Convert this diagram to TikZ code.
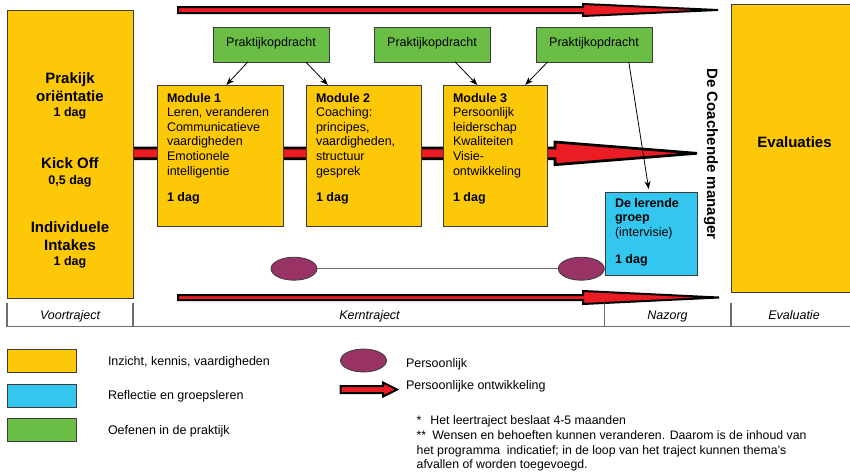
\documentclass[tikz,border=0pt]{standalone}
\usepackage{fontspec}
\setmainfont{Liberation Sans}
\usetikzlibrary{calc,arrows.meta,shapes.geometric}
\definecolor{cyel}{RGB}{252,200,8}
\definecolor{cblu}{RGB}{51,199,240}
\definecolor{cgrn}{RGB}{106,189,69}
\definecolor{cpur}{RGB}{153,51,102}
\definecolor{cred}{RGB}{236,28,36}
\definecolor{cbrd}{RGB}{60,60,60}
\definecolor{cgry}{RGB}{110,110,110}
\begin{document}
\begin{tikzpicture}[x=1pt,y=-1pt,
  every node/.style={inner sep=0pt, outer sep=0pt},
  box/.style={draw=cbrd, line width=0.8pt, anchor=north west},
  ybox/.style={box, fill=cyel},
  bbox/.style={box, fill=cblu},
  gbox/.style={box, fill=cgrn, minimum width=116pt, minimum height=35pt, text depth=5pt, font=\fontsize{12.5}{14}\selectfont},
  modtxt/.style={anchor=base west, align=left, font=\fontsize{12.5}{14.6}\selectfont},
  bigtxt/.style={anchor=base, font=\bfseries\fontsize{15}{18}\selectfont},
  smalltxt/.style={anchor=base, font=\bfseries\fontsize{12.5}{15}\selectfont},
  persell/.style={ellipse, draw=cbrd, line width=0.8pt, fill=cpur, minimum width=46pt, minimum height=23pt},
  conn/.style={-{Stealth[length=8pt,width=6pt]}, line width=0.8pt, black},
  bigarr/.style={draw=black, fill=cred, line join=miter},
  phase/.style={anchor=base, font=\itshape\fontsize{12.5}{14}\selectfont},
  legtxt/.style={anchor=base west, font=\fontsize{12.5}{14}\selectfont},
  phaseline/.style={draw=cgry, line width=1.1pt}
]
\useasboundingbox (0,0) rectangle (850,472);

% personal development arrows
\draw[bigarr, line width=2pt] (178,7) -- (583,7) -- (583,4) -- (718,10) -- (583,16) -- (583,13) -- (178,13) -- cycle;
\draw[bigarr, line width=2.7pt] (130,148) -- (555,148) -- (555,142) -- (697,153.3) -- (555,164.7) -- (555,158.7) -- (130,158.7) -- cycle;
\draw[bigarr, line width=2pt] (178,295) -- (583,295) -- (583,291) -- (719,297.5) -- (583,304) -- (583,300) -- (178,300) -- cycle;

% left box
\node[ybox, minimum width=126pt, minimum height=288pt] (pre) at (7,10) {};
\node[bigtxt] (pa) at (70,83.5) {Prakijk};
\node[bigtxt] (pb) at (70,101) {oriëntatie};
\node[smalltxt] (pc) at (70,116.5) {1 dag};
\node[bigtxt] (ka) at (70,168.5) {Kick Off};
\node[smalltxt] (kb) at (70,184) {0,5 dag};
\node[bigtxt] (ia) at (70,232.5) {Individuele};
\node[bigtxt] (ib) at (70,250.5) {Intakes};
\node[smalltxt] (ic) at (70,265.5) {1 dag};

% evaluation box
\node[ybox, minimum width=122pt, minimum height=288pt] (eval) at (731,4) {};
\node[anchor=center, font=\bfseries\fontsize{15}{18}\selectfont] (evt) at (794.5,142) {Evaluaties};

% modules
\node[ybox, minimum width=126pt, minimum height=141pt] (m1) at (157,85) {};
\node[ybox, minimum width=115pt, minimum height=141pt] (m2) at (306,85) {};
\node[ybox, minimum width=104pt, minimum height=141pt] (m3) at (443,85) {};
\node[modtxt] (m1t) at (167,201.6) {\textbf{Module 1}\\Leren, veranderen\\Communicatieve\\vaardigheden\\Emotionele\\intelligentie\\[12pt]\textbf{1 dag}};
\node[modtxt] (m2t) at (316,201.6) {\textbf{Module 2}\\Coaching:\\principes,\\vaardigheden,\\structuur\\gesprek\\[12pt]\textbf{1 dag}};
\node[modtxt] (m3t) at (453,201.6) {\textbf{Module 3}\\Persoonlijk\\leiderschap\\Kwaliteiten\\Visie-\\ontwikkeling\\[12pt]\textbf{1 dag}};

% learning group
\node[bbox, minimum width=92pt, minimum height=83pt] (grp) at (605,192) {};
\node[modtxt] (grpt) at (615,263) {\textbf{De lerende}\\\textbf{groep}\\(intervisie)\\[12pt]\textbf{1 dag}};

% practice assignments
\node[gbox] (g1) at (213,27) {Praktijkopdracht};
\node[gbox] (g2) at (374,27) {Praktijkopdracht};
\node[gbox] (g3) at (536,27) {Praktijkopdracht};

\draw[conn] ($(g1.south west)!0.30!(g1.south east)$) -- ($(m1.north west)!0.55!(m1.north east)$);
\draw[conn] ($(g1.south west)!0.80!(g1.south east)$) -- ($(m2.north west)!0.19!(m2.north east)$);
\draw[conn] ($(g2.south west)!0.70!(g2.south east)$) -- ($(m3.north west)!0.33!(m3.north east)$);
\draw[conn] ($(g3.south west)!0.10!(g3.south east)$) -- ($(m3.north west)!0.79!(m3.north east)$);
\draw[conn, shorten >=3pt] ($(g3.south west)!0.80!(g3.south east)$) -- ($(grp.north west)!0.48!(grp.north east)$);

% personal line
\node[persell] (e1) at (294,268.7) {};
\node[persell] (e2) at (581.3,268.7) {};
\draw[cgry, line width=0.9pt] (e1.east) -- (e2.west);

% coach label
\node[rotate=-90, anchor=base, font=\bfseries\fontsize{15}{18}\selectfont] (coach) at (707,154) {De Coachende manager};

% phase table
\draw[phaseline] (7,326.5) -- (852,326.5);
\draw[phaseline] (7,303) -- (7,326.5);
\draw[phaseline] (133,303) -- (133,326.5);
\draw[phaseline] (604.5,303) -- (604.5,326.5);
\draw[phaseline] (731,303) -- (731,326.5);
\node[phase] (ph1) at (70,319.5) {Voortraject};
\node[phase] (ph2) at (369.5,319.5) {Kerntraject};
\node[phase] (ph3) at (667.5,319.5) {Nazorg};
\node[phase] (ph4) at (794,319.5) {Evaluatie};

% legend
\node[box, fill=cyel, minimum width=69pt, minimum height=23pt] (ly) at (7,349) {};
\node[box, fill=cblu, minimum width=69pt, minimum height=23pt] (lb) at (7,384) {};
\node[box, fill=cgrn, minimum width=69pt, minimum height=23pt] (lg) at (7,418.5) {};
\node[legtxt] (lyt) at (108,365.7) {Inzicht, kennis, vaardigheden};
\node[legtxt] (lbt) at (108,399.7) {Reflectie en groepsleren};
\node[legtxt] (lgt) at (108,434.7) {Oefenen in de praktijk};
\node[persell] (le) at (363.5,360.5) {};
\node[legtxt] (let) at (406,367) {Persoonlijk};
\draw[bigarr, line width=2pt] (340.5,386) -- (383,386) -- (383,382.5) -- (397,389.5) -- (383,396.5) -- (383,393) -- (340.5,393) -- cycle;
\node[legtxt] (lat) at (406,389.7) {Persoonlijke ontwikkeling};
\node[anchor=base west, align=left, font=\fontsize{12.3}{14.4}\selectfont] (notes) at (416.7,468.6)
  {*\hspace{9pt}Het leertraject beslaat 4-5 maanden\\[0.8pt]
   **\hspace{6pt}Wensen en behoeften kunnen veranderen. Daarom is de inhoud van\\
   het programma\ \ indicatief; in de loop van het traject kunnen thema’s\\
   afvallen of worden toegevoegd.};
\end{tikzpicture}
\end{document}
